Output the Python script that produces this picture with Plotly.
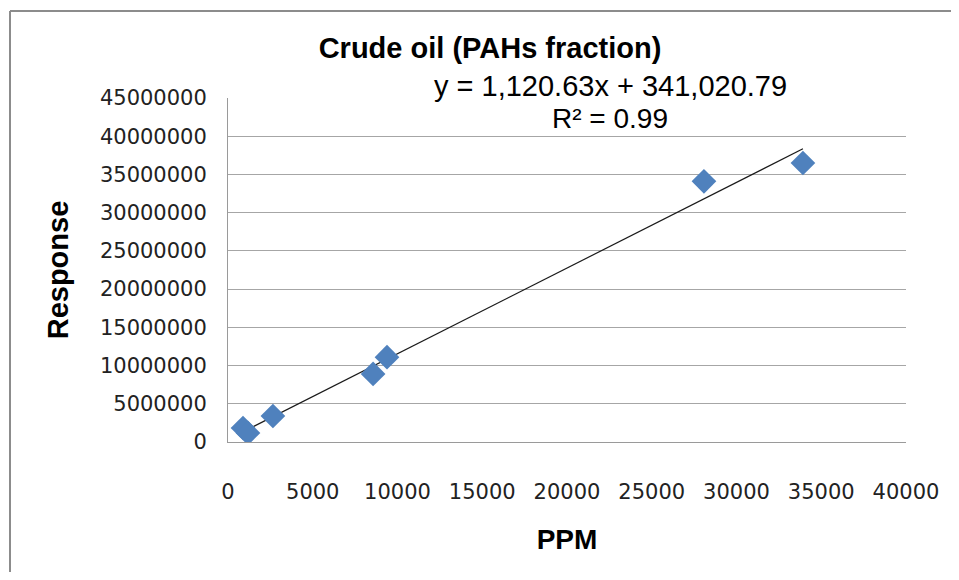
import plotly.graph_objects as go

ppm = [885, 1180, 2650, 8560, 9380, 28080, 33920]
response = [1830000, 1180000, 3400000, 8900000, 11100000, 34100000, 36500000]

slope = 1120.63
intercept = 341020.79
trend_x = [min(ppm), max(ppm)]
trend_y = [slope * v + intercept for v in trend_x]

x_ticks = [0, 5000, 10000, 15000, 20000, 25000, 30000, 35000, 40000]
y_ticks = [0, 5000000, 10000000, 15000000, 20000000, 25000000, 30000000, 35000000, 40000000, 45000000]

fig = go.Figure()
fig.add_trace(go.Scatter(x=trend_x, y=trend_y, mode="lines",
                         line=dict(color="#1a1a1a", width=1.2), showlegend=False, hoverinfo="skip"))
fig.add_trace(go.Scatter(x=ppm, y=response, mode="markers",
                         marker=dict(symbol="diamond", size=19, color="#4F81BD"),
                         showlegend=False))

OFF = 8  # page body margin
W, H = 959 - 2 * OFF, 580 - 2 * OFF
L, R, T, B = 228 - OFF, 906 - OFF, 98 - OFF, 442 - OFF

def px_x(p):
    return (p - 228) / (906 - 228)

def px_y(p):
    return (442 - p) / (442 - 98)

fig.update_layout(
    width=W, height=H,
    margin=dict(l=L, r=W - R, t=T, b=H - B),
    plot_bgcolor="white", paper_bgcolor="white",
    title=dict(text="<b>Crude oil (PAHs fraction)</b>", x=(490 - OFF) / W, xanchor="center",
               y=1 - (48 - OFF) / H, yanchor="middle",
               font=dict(family="Liberation Sans, Arial", size=29, color="black")),
    xaxis=dict(range=[0, 40000], tickvals=x_ticks, ticktext=[str(v) for v in x_ticks],
               showgrid=False, zeroline=False, showline=True, linecolor="#9a9a9a", linewidth=1,
               ticks="", ticklabelstandoff=31,
               tickfont=dict(family="DejaVu Sans", size=21, color="#222"),
               title=dict(text="<b>PPM</b>", standoff=26,
                          font=dict(family="Liberation Sans, Arial", size=28, color="black"))),
    yaxis=dict(range=[0, 45000000], tickvals=y_ticks, ticktext=[str(v) for v in y_ticks],
               showgrid=True, gridcolor="#a6a6a6", gridwidth=1, zeroline=False,
               showline=True, linecolor="#9a9a9a", linewidth=1,
               ticks="", ticklabelstandoff=16,
               tickfont=dict(family="DejaVu Sans", size=21, color="#222"),
               title=dict(text="<b>Response</b>", standoff=22,
                          font=dict(family="Liberation Sans, Arial", size=29, color="black"))),
    annotations=[
        dict(text="y = 1,120.63x + 341,020.79", xref="paper", yref="paper",
             x=px_x(610), y=px_y(86), xanchor="center", yanchor="middle",
             showarrow=False, font=dict(family="Liberation Sans, Arial", size=29, color="black")),
        dict(text="R² = 0.99", xref="paper", yref="paper",
             x=px_x(610), y=px_y(118), xanchor="center", yanchor="middle",
             showarrow=False, font=dict(family="Liberation Sans, Arial", size=28, color="black")),
    ],
    shapes=[
        dict(type="line", xref="paper", yref="paper",
             x0=px_x(10), x1=px_x(W + OFF), y0=px_y(11), y1=px_y(11),
             line=dict(color="#8c8c8c", width=2), layer="below"),
        dict(type="line", xref="paper", yref="paper",
             x0=px_x(10), x1=px_x(10), y0=px_y(11), y1=px_y(H + OFF),
             line=dict(color="#8c8c8c", width=2), layer="below"),
    ],
)

fig.write_html("out.html")
